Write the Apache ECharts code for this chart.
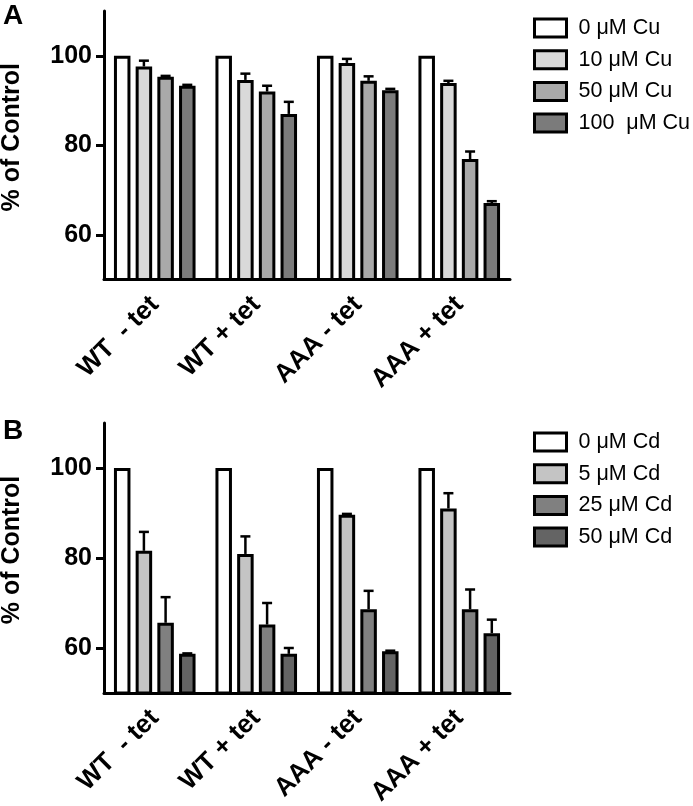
<!DOCTYPE html>
<html><head><meta charset="utf-8">
<script src="https://cdn.jsdelivr.net/npm/echarts@6/dist/echarts.min.js"></script>
<style>html,body{margin:0;padding:0;background:#fff}#c{width:693px;height:806px}</style>
</head><body><div id="c"></div>
<script>
const categories = ['WT  - tet', 'WT + tet', 'AAA - tet', 'AAA + tet'];
const yTicks = [60, 80, 100];

// Panel A (Cu)
const cuNames = ['0 μM Cu', '10 μM Cu', '50 μM Cu', '100  μM Cu'];
const cu0 = [100, 100, 100, 100];
const cu10 = [97.6, 94.6, 98.4, 93.9];
const cu50 = [95.3, 92.0, 94.4, 76.9];
const cu100 = [93.3, 87.0, 92.3, 67.1];
const cu0Err = [0, 0, 0, 0];
const cu10Err = [1.3, 1.4, 0.9, 0.5];
const cu50Err = [0.2, 1.3, 1.0, 1.7];
const cu100Err = [0.2, 2.7, 0.3, 0.4];

// Panel B (Cd)
const cdNames = ['0 μM Cd', '5 μM Cd', '25 μM Cd', '50 μM Cd'];
const cd0 = [100, 100, 100, 100];
const cd5 = [81.6, 80.9, 89.6, 91.0];
const cd25 = [65.6, 65.2, 68.6, 68.6];
const cd50 = [58.7, 58.7, 59.3, 63.3];
const cd0Err = [0, 0, 0, 0];
const cd5Err = [4.2, 3.9, 0.2, 3.4];
const cd25Err = [5.7, 4.8, 4.1, 4.4];
const cd50Err = [0.1, 1.3, 0.1, 3.0];

const cuColors = ['#ffffff', '#d9d9d9', '#a9a9a9', '#7b7b7b'];
const cdColors = ['#ffffff', '#c4c4c4', '#808080', '#646464'];

const FONT = "'Liberation Sans', Arial, sans-serif";
const BW = 16.5, GAP = 0.315;

function barSeries(name, data, color, gi) {
  return {
    type: 'bar', name: name, data: data, xAxisIndex: gi, yAxisIndex: gi,
    barWidth: BW, barGap: (GAP * 100) + '%',
    itemStyle: { color: color, borderColor: '#000', borderWidth: 3 },
    silent: true, z: 2
  };
}
function errSeries(vals, errs, k, gi) {
  const off = (k - 1.5) * BW * (1 + GAP);
  return {
    type: 'custom', xAxisIndex: gi, yAxisIndex: gi, z: 3, silent: true,
    data: vals.map((v, i) => [i, v, errs[i]]),
    renderItem: function (params, api) {
      const e = api.value(2);
      if (!(e > 0)) return null;
      const c = api.coord([api.value(0), api.value(1)]);
      const t = api.coord([api.value(0), api.value(1) + e]);
      const x = c[0] + off;
      return { type: 'group', children: [
        { type: 'line', shape: { x1: x, y1: c[1], x2: x, y2: t[1] }, style: { stroke: '#000', lineWidth: 2.5 } },
        { type: 'line', shape: { x1: x - 5, y1: t[1], x2: x + 5, y2: t[1] }, style: { stroke: '#000', lineWidth: 2.5 } }
      ]};
    }
  };
}

function xAxis(gi) {
  return {
    type: 'category', gridIndex: gi, data: categories,
    axisLine: { lineStyle: { color: '#000', width: 3 } },
    axisTick: { alignWithLabel: true, length: 8, lineStyle: { color: '#000', width: 3 } },
    axisLabel: { rotate: 45, margin: 21, color: '#000', fontFamily: FONT, fontWeight: 'bold', fontSize: 26, interval: 0 }
  };
}
function yAxis(gi) {
  return {
    type: 'value', gridIndex: gi, min: 50, max: 110, interval: 10,
    name: '% of Control', nameLocation: 'middle', nameGap: 79, nameRotate: 90,
    nameTextStyle: { color: '#000', fontFamily: FONT, fontWeight: 'bold', fontSize: 25, padding: [0, 0, 0, 16] },
    axisLine: { show: true, lineStyle: { color: '#000', width: 3 } },
    axisTick: { show: true, length: 8, customValues: yTicks, lineStyle: { color: '#000', width: 3 } },
    axisLabel: { customValues: yTicks, margin: 12, color: '#000', fontFamily: FONT, fontWeight: 'bold', fontSize: 25 },
    splitLine: { show: false }
  };
}
function legend(names, top) {
  return {
    orient: 'vertical', left: 533, top: top, padding: 0, icon: 'rect', data: names,
    itemWidth: 32, itemHeight: 18, itemGap: 9.7, selectedMode: false,
    itemStyle: { borderColor: '#000', borderWidth: 3 },
    textStyle: { color: '#000', fontFamily: FONT, fontSize: 21.5, lineHeight: 22, padding: [0, 0, 0, 7] }
  };
}

const option = {
  animation: false,
  backgroundColor: '#fff',
  title: [
    { text: 'A', left: 3, top: 2, padding: 0, textStyle: { fontFamily: FONT, fontWeight: 'bold', fontSize: 28, color: '#000' } },
    { text: 'B', left: 3, top: 417, padding: 0, textStyle: { fontFamily: FONT, fontWeight: 'bold', fontSize: 28, color: '#000' } }
  ],
  grid: [
    { left: 104, width: 406, top: 11, height: 268.5, containLabel: false, outerBoundsMode: 'none' },
    { left: 104, width: 406, top: 423, height: 270, containLabel: false, outerBoundsMode: 'none' }
  ],
  legend: [legend(cuNames, 17), legend(cdNames, 431)],
  xAxis: [xAxis(0), xAxis(1)],
  yAxis: [yAxis(0), yAxis(1)],
  series: [
    barSeries(cuNames[0], cu0, cuColors[0], 0),
    barSeries(cuNames[1], cu10, cuColors[1], 0),
    barSeries(cuNames[2], cu50, cuColors[2], 0),
    barSeries(cuNames[3], cu100, cuColors[3], 0),
    errSeries(cu0, cu0Err, 0, 0),
    errSeries(cu10, cu10Err, 1, 0),
    errSeries(cu50, cu50Err, 2, 0),
    errSeries(cu100, cu100Err, 3, 0),
    barSeries(cdNames[0], cd0, cdColors[0], 1),
    barSeries(cdNames[1], cd5, cdColors[1], 1),
    barSeries(cdNames[2], cd25, cdColors[2], 1),
    barSeries(cdNames[3], cd50, cdColors[3], 1),
    errSeries(cd0, cd0Err, 0, 1),
    errSeries(cd5, cd5Err, 1, 1),
    errSeries(cd25, cd25Err, 2, 1),
    errSeries(cd50, cd50Err, 3, 1)
  ]
};
const chart = echarts.init(document.getElementById('c'), null, { renderer: 'canvas' });
chart.setOption(option);
</script>
</body></html>
